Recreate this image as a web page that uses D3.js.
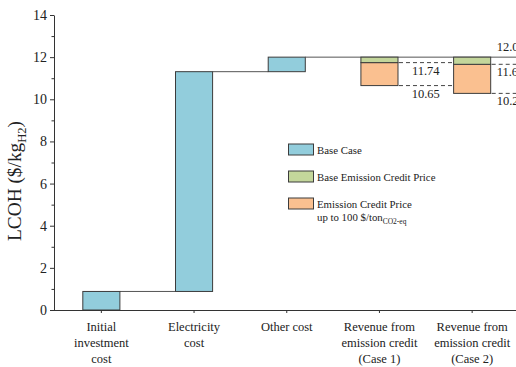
<!DOCTYPE html>
<html>
<head>
<meta charset="utf-8">
<script src="https://cdn.jsdelivr.net/npm/d3@7"></script>
<style>
  html, body { margin: 0; padding: 0; background: #fff; }
  svg { display: block; font-family: "Liberation Serif", "Times New Roman", serif; }
</style>
</head>
<body>
<svg id="chart" width="516" height="367"></svg>
<script>
// Cost build-up of the levelized cost of hydrogen ($/kg H2)
const categories = ["Initial investment cost", "Electricity cost", "Other cost",
  "Revenue from emission credit (Case 1)", "Revenue from emission credit (Case 2)"];
const categoryLines = [
  ["Initial", "investment", "cost"],
  ["Electricity", "cost"],
  ["Other cost"],
  ["Revenue from", "emission credit", "(Case 1)"],
  ["Revenue from", "emission credit", "(Case 2)"]
];
const costSteps = [0.88, 10.43, 0.69];          // base-case cost components
const baseCreditLevel = [11.74, 11.66];         // LCOH after base emission credit
const maxCreditLevel = [10.65, 10.28];          // LCOH at 100 $/ton CO2-eq
const yTicks = [0, 2, 4, 6, 8, 10, 12, 14];
const yMinorTicks = [1, 3, 5, 7, 9, 11, 13];

const colors = { base: "#92cddc", baseCredit: "#c3d69b", credit: "#fac090" };
const stroke = "#3c3c3c";

const svg = d3.select("#chart");
const x = d3.scaleBand().domain(categories).range([55, 518.5]);
const y = d3.scaleLinear().domain([0, 14]).range([310, 15]);
const barW = x.bandwidth() * 0.4;
const cx = c => x(c) + x.bandwidth() / 2;

// cumulative levels for the waterfall
let run = 0;
const steps = costSteps.map((v, i) => {
  const s = { cat: categories[i], from: run, to: run + v };
  run += v;
  return s;
});
const total = run;

// connector lines between consecutive bars
const conn = svg.append("g").attr("stroke", "#555").attr("stroke-width", 1).attr("fill", "none");
steps.forEach((s, i) => {
  if (i < steps.length - 1) {
    conn.append("line")
      .attr("x1", cx(s.cat) + barW / 2).attr("x2", cx(categories[i + 1]) - barW / 2)
      .attr("y1", y(s.to)).attr("y2", y(s.to));
  }
});
// total level running across the credit bars
conn.append("line")
  .attr("x1", cx(categories[2]) + barW / 2).attr("x2", 516)
  .attr("y1", y(total)).attr("y2", y(total));

// dashed guide lines at the credit levels
const dash = svg.append("g").attr("stroke", "#444").attr("stroke-width", 1).attr("stroke-dasharray", "4,3");
[0, 1].forEach(k => {
  const c = categories[3 + k];
  const xEnd = k === 0 ? cx(categories[4]) - barW / 2 : 516;
  [baseCreditLevel[k], maxCreditLevel[k]].forEach(v => {
    dash.append("line")
      .attr("x1", cx(c) + barW / 2 + 1).attr("x2", xEnd)
      .attr("y1", y(v)).attr("y2", y(v));
  });
});

// bars
const bars = svg.append("g").attr("stroke", stroke).attr("stroke-width", 1);
steps.forEach(s => {
  bars.append("rect")
    .attr("x", cx(s.cat) - barW / 2).attr("width", barW)
    .attr("y", y(s.to)).attr("height", y(s.from) - y(s.to))
    .attr("fill", colors.base);
});
[0, 1].forEach(k => {
  const c = categories[3 + k];
  bars.append("rect")
    .attr("x", cx(c) - barW / 2).attr("width", barW)
    .attr("y", y(baseCreditLevel[k])).attr("height", y(maxCreditLevel[k]) - y(baseCreditLevel[k]))
    .attr("fill", colors.credit);
  bars.append("rect")
    .attr("x", cx(c) - barW / 2).attr("width", barW)
    .attr("y", y(total)).attr("height", y(baseCreditLevel[k]) - y(total))
    .attr("fill", colors.baseCredit);
});

// value labels
const lbl = svg.append("g").attr("font-size", 12.5).attr("fill", "#222");
lbl.append("text").attr("x", cx(categories[4]) + barW / 2 + 6).attr("y", y(total) - 6)
  .text(total.toFixed(2));
[0, 1].forEach(k => {
  const c = categories[3 + k];
  const xl = k === 0 ? (cx(c) + barW / 2 + cx(categories[4]) - barW / 2) / 2 : cx(c) + barW / 2 + 6;
  const anchor = k === 0 ? "middle" : "start";
  [baseCreditLevel[k], maxCreditLevel[k]].forEach(v => {
    lbl.append("text").attr("x", xl).attr("y", y(v) + 12)
      .attr("text-anchor", anchor).text(v.toFixed(2));
  });
});

// axes
const yAxis = svg.append("g").attr("transform", "translate(54,0)")
  .call(d3.axisLeft(y).tickValues(yTicks).tickSize(4).tickPadding(3).tickSizeOuter(0));
svg.append("g").attr("transform", "translate(54,0)")
  .call(d3.axisLeft(y).tickValues(yMinorTicks).tickSize(2.5).tickFormat("").tickSizeOuter(0))
  .select(".domain").remove();
yAxis.selectAll("text").attr("font-size", 14).attr("fill", "#222")
  .attr("font-family", "Liberation Serif, serif");
svg.selectAll(".tick line, .domain").attr("stroke", "#333");

const xAxis = svg.append("g").attr("transform", "translate(0,310)")
  .call(d3.axisBottom(x).tickSize(3).tickSizeOuter(0).tickFormat(""));
xAxis.select(".domain").attr("d", "M54,0.5H516").attr("stroke", "#333");
xAxis.selectAll(".tick line").attr("stroke", "#333");

// multi-line category labels
categoryLines.forEach((lines, i) => {
  const t = svg.append("text").attr("text-anchor", "middle").attr("font-size", 12.5).attr("fill", "#222");
  lines.forEach((ln, j) => {
    t.append("tspan").attr("x", cx(categories[i])).attr("y", 331 + j * 16).text(ln);
  });
});

// y-axis title, sized to span from y=3.3 up to y=9 on the value axis
const title = svg.append("text")
  .attr("transform", "translate(21,181) rotate(-90)")
  .attr("text-anchor", "middle").attr("font-size", 20).attr("fill", "#222");
title.append("tspan").text("LCOH ($/kg");
title.append("tspan").attr("font-size", 13).attr("dy", 5).text("H2");
title.append("tspan").attr("dy", -5).text(")");
const titleSpan = y(3.3) - y(9);
const measured = title.node().getComputedTextLength();
if (measured > 0) {
  const k = titleSpan / measured;
  title.attr("font-size", 20 * k);
  title.selectAll("tspan").filter((d, i) => i === 1).attr("font-size", 13 * k);
}

// legend
const legend = svg.append("g").attr("font-size", 10.8).attr("fill", "#222");
const legendItems = [
  { fill: colors.base, y: 144, text: ["Base Case"] },
  { fill: colors.baseCredit, y: 171, text: ["Base Emission Credit Price"] },
  { fill: colors.credit, y: 198, text: ["Emission Credit Price"] }
];
legendItems.forEach(d => {
  legend.append("rect").attr("x", 288.5).attr("y", d.y).attr("width", 25).attr("height", 11)
    .attr("fill", d.fill).attr("stroke", stroke).attr("stroke-width", 1);
  legend.append("text").attr("x", 317).attr("y", d.y + 10).text(d.text[0]);
});
const l2 = legend.append("text").attr("x", 317).attr("y", 221);
l2.append("tspan").text("up to 100 $/ton");
l2.append("tspan").attr("font-size", 7.5).attr("dy", 3).text("CO2-eq");
</script>
</body>
</html>
